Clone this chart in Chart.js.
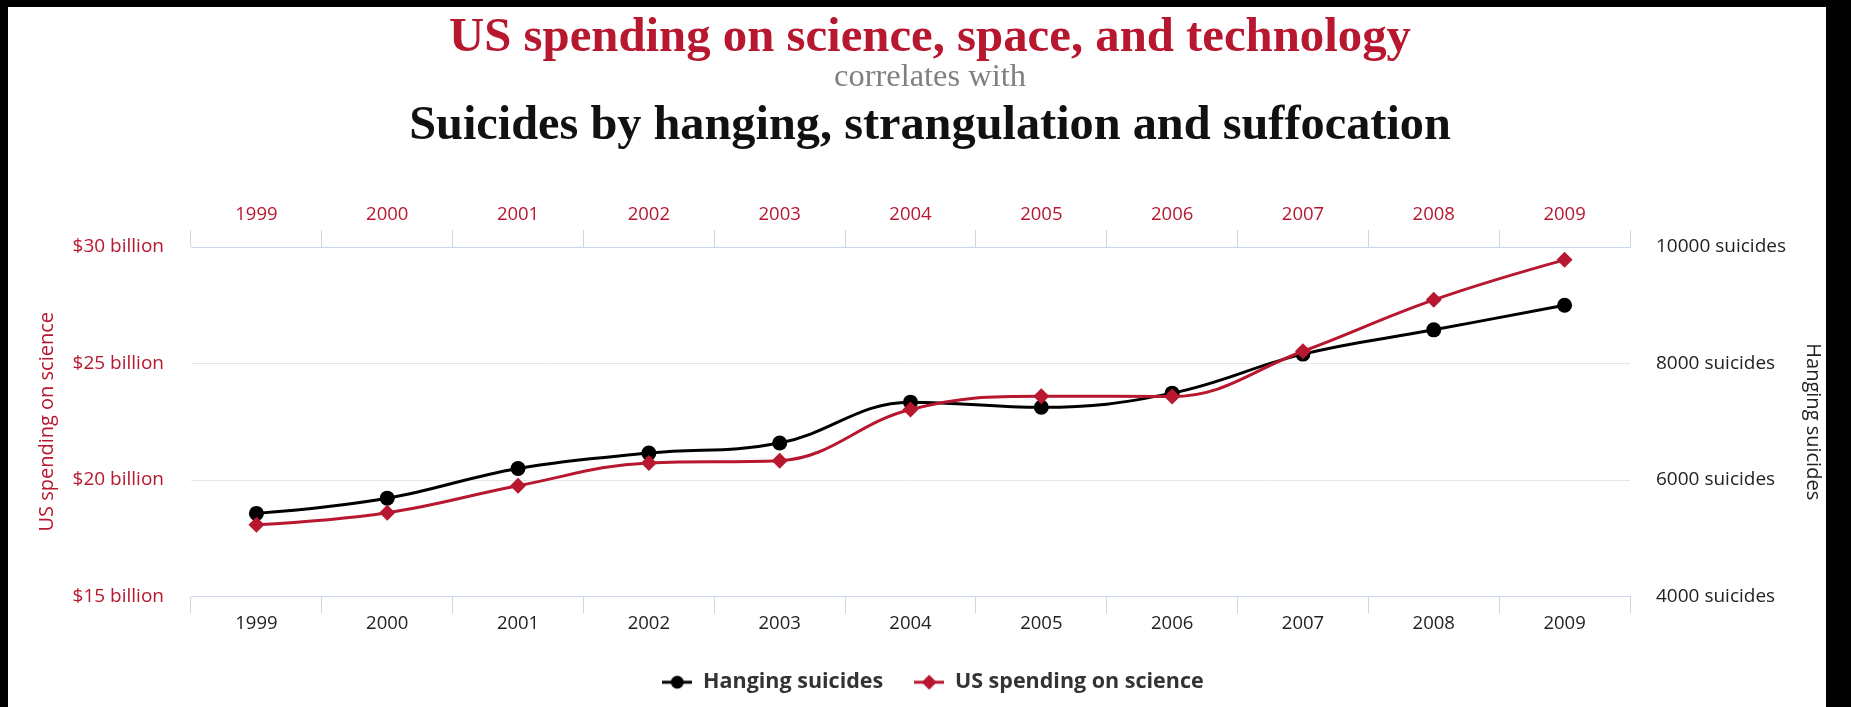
<!DOCTYPE html>
<html><head><meta charset="utf-8">
<script src="https://cdn.jsdelivr.net/npm/chart.js@4.4.0/dist/chart.umd.min.js"></script>
<style>
html,body{margin:0;padding:0;background:#000;}
#frame{position:absolute;left:0;top:0;width:1851px;height:707px;background:#000;overflow:hidden}
#panel{position:absolute;left:8px;top:7px;right:25px;bottom:0;background:#fff}
#c{position:absolute;left:0;top:0;z-index:1}
.t{position:absolute;left:0;width:1860px;text-align:center;white-space:nowrap;line-height:1;z-index:2}
.t span{display:inline-block}
#t1{font-family:"Liberation Serif",serif;font-weight:bold;color:#b7172f}
#t2{font-family:"Liberation Serif",serif;color:#808080}
#t3{font-family:"Liberation Serif",serif;font-weight:bold;color:#111}
</style></head>
<body>
<div id="frame">
  <div id="panel"></div>
  <div class="t" id="t1"><span>US spending on science, space, and technology</span></div>
  <div class="t" id="t2"><span>correlates with</span></div>
  <div class="t" id="t3"><span>Suicides by hanging, strangulation and suffocation</span></div>
  <canvas id="c" width="1851" height="707"></canvas>
</div>
<script>
// ---- data ----
const years = ['1999','2000','2001','2002','2003','2004','2005','2006','2007','2008','2009'];
const hangingSuicides = [5427, 5688, 6198, 6462, 6635, 7336, 7248, 7491, 8161, 8578, 9000];
const scienceSpending = [18.079, 18.594, 19.753, 20.734, 20.831, 23.029, 23.597, 23.584, 25.525, 27.731, 29.449];
const spendingTicks = [15, 20, 25, 30];
const suicideTicks = [4000, 6000, 8000, 10000];

const RED = '#b7172f';
const BLACK = '#000000';
const AXIS = '#ccd6eb';

// ---- titles: fit widths ----
function fitTitle(id, targetW, centerY){
  const el = document.getElementById(id);
  const sp = el.firstElementChild;
  let fs = 40;
  el.style.fontSize = fs + 'px';
  const w = sp.getBoundingClientRect().width;
  fs = fs * targetW / w;
  el.style.fontSize = fs + 'px';
  el.style.top = (centerY - fs / 2) + 'px';
}
fitTitle('t1', 962, 35);
fitTitle('t2', 192, 75);
fitTitle('t3', 1042, 123);

// ---- legend icons ----
function legendIcon(color, shape){
  const cv = document.createElement('canvas');
  cv.width = 30; cv.height = 18;
  const g = cv.getContext('2d');
  g.strokeStyle = color; g.lineWidth = 3;
  g.beginPath(); g.moveTo(0, 9); g.lineTo(30, 9); g.stroke();
  g.fillStyle = color;
  g.beginPath();
  if (shape === 'circle') { g.arc(15, 9, 6.5, 0, Math.PI * 2); }
  else { g.moveTo(15, 1.5); g.lineTo(22.5, 9); g.lineTo(15, 16.5); g.lineTo(7.5, 9); g.closePath(); }
  g.fill();
  return cv;
}
const icons = [legendIcon(BLACK, 'circle'), legendIcon(RED, 'diamond')];

// ---- spline smoothing in the style of a classic "spline" series ----
const splinePlugin = {
  id: 'splineSmooth',
  beforeDatasetDraw(chart, args) {
    const meta = args.meta;
    const pts = meta.data;
    const n = pts.length;
    const s = 1.5, denom = s + 1;
    for (let i = 0; i < n; i++) {
      const p = pts[i];
      if (i === 0 || i === n - 1) {
        p.cp1x = p.x; p.cp1y = p.y; p.cp2x = p.x; p.cp2y = p.y;
        continue;
      }
      const a = pts[i - 1], b = pts[i + 1];
      let lx = (s * p.x + a.x) / denom, ly = (s * p.y + a.y) / denom;
      let rx = (s * p.x + b.x) / denom, ry = (s * p.y + b.y) / denom;
      let corr = 0;
      if (rx !== lx) corr = ((ry - ly) * (rx - p.x)) / (rx - lx) + p.y - ry;
      ly += corr; ry += corr;
      if (ly > a.y && ly > p.y) { ly = Math.max(a.y, p.y); ry = 2 * p.y - ly; }
      else if (ly < a.y && ly < p.y) { ly = Math.min(a.y, p.y); ry = 2 * p.y - ly; }
      if (ry > b.y && ry > p.y) { ry = Math.max(b.y, p.y); ly = 2 * p.y - ry; }
      else if (ry < b.y && ry < p.y) { ry = Math.min(b.y, p.y); ly = 2 * p.y - ry; }
      p.cp1x = lx; p.cp1y = ly; p.cp2x = rx; p.cp2y = ry;
    }
    if (meta.dataset) meta.dataset._pointsUpdated = true;
  }
};

Chart.defaults.font.family = "'Open Sans', sans-serif";

const xCommon = (pos, color, pad, h) => ({
  type: 'category',
  labels: years,
  position: pos,
  offset: true,
  grid: { offset: true, drawOnChartArea: false, tickLength: 17, color: AXIS, lineWidth: 1 },
  border: { display: true, color: AXIS, width: 1 },
  ticks: { color: color, font: { size: 18.5 }, padding: pad, maxRotation: 0, autoSkip: false },
  afterFit: s => { s.height = h; }
});

new Chart(document.getElementById('c'), {
  type: 'line',
  plugins: [splinePlugin],
  data: {
    labels: years,
    datasets: [
      {
        label: 'Hanging suicides',
        data: hangingSuicides,
        xAxisID: 'x',
        yAxisID: 'y2',
        borderColor: BLACK,
        backgroundColor: BLACK,
        borderWidth: 3,
        pointStyle: 'circle',
        pointRadius: 7.5,
        pointBorderWidth: 0,
        tension: 0.4,
        order: 1
      },
      {
        label: 'US spending on science',
        data: scienceSpending,
        xAxisID: 'x',
        yAxisID: 'y',
        borderColor: RED,
        backgroundColor: RED,
        borderWidth: 3,
        pointStyle: 'rectRot',
        pointRadius: 8,
        pointBorderWidth: 0,
        tension: 0.4,
        order: 0
      }
    ]
  },
  options: {
    responsive: false,
    animation: false,
    layout: { padding: { left: 15, right: 0, top: 0, bottom: 4 } },
    plugins: {
      tooltip: { enabled: false },
      legend: {
        position: 'bottom',
        labels: {
          usePointStyle: true,
          pointStyleWidth: 30,
          padding: 31,
          color: '#333',
          font: { family: "'Open Sans', sans-serif", weight: 'bold', size: 21.5 },
          sort: (a, b) => a.datasetIndex - b.datasetIndex,
          generateLabels: chart => {
            const items = Chart.defaults.plugins.legend.labels.generateLabels(chart);
            items.forEach(it => { it.pointStyle = icons[it.datasetIndex]; it.fontColor = '#333'; });
            return items;
          }
        }
      }
    },
    scales: {
      x: xCommon('bottom', '#222', -1, 44),
      x2: xCommon('top', RED, 4, 247),
      y: {
        position: 'left',
        min: spendingTicks[0],
        max: spendingTicks[spendingTicks.length - 1],
        afterBuildTicks: s => { s.ticks = spendingTicks.map(v => ({ value: v })); },
        ticks: { color: RED, font: { size: 19 }, padding: 27, callback: v => '$' + v + ' billion' },
        grid: { color: '#e6e6e6', drawTicks: false, lineWidth: 1 },
        border: { display: false },
        title: { display: true, text: 'US spending on science', color: RED, font: { size: 20 }, padding: { top: 20, bottom: 0 } },
        afterFit: s => { s.width = 176; }
      },
      y2: {
        position: 'right',
        min: suicideTicks[0],
        max: suicideTicks[suicideTicks.length - 1],
        afterBuildTicks: s => { s.ticks = suicideTicks.map(v => ({ value: v })); },
        ticks: { color: '#222', font: { size: 19 }, padding: 26, callback: v => v + ' suicides' },
        grid: { drawOnChartArea: false, drawTicks: false },
        border: { display: false },
        title: { display: true, text: 'Hanging suicides', color: '#222', font: { size: 20 }, padding: { top: 26, bottom: 0 } },
        afterFit: s => { s.width = 221; }
      }
    }
  }
});
</script>
</body></html>
